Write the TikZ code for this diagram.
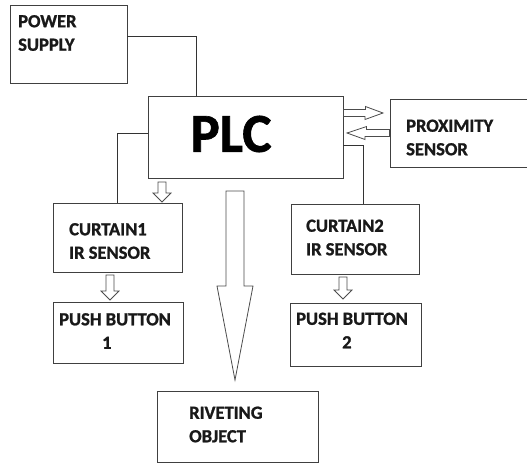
\documentclass[tikz,border=0pt]{standalone}
\usepackage{fontspec}
\setmainfont{Carlito}[BoldFeatures={FakeBold=1.2}]
\begin{document}
\begin{tikzpicture}[x=1pt,y=-1pt,
  box/.style={draw=black!75,line width=0.9pt,rectangle,inner sep=0pt},
  lbl/.style={font=\bfseries\fontsize{18.5}{23.5}\selectfont,align=left,anchor=west,inner sep=0pt,text=black!90},
  wire/.style={draw=black!80,line width=0.9pt},
  hollow/.style={draw=black!70,line width=0.8pt,fill=white,line join=miter}]
\useasboundingbox (0,0) rectangle (527,463);
% boxes (corner to corner)
\node[box,minimum width=117pt,minimum height=78pt] (ps) at (68.5,44) {};
\node[box,minimum width=195pt,minimum height=82pt] (plc) at (245.5,137) {};
\node[box,minimum width=139pt,minimum height=68pt] (prox) at (459.5,133) {};
\node[box,minimum width=129pt,minimum height=69pt] (c1) at (117.5,237.5) {};
\node[box,minimum width=130pt,minimum height=61pt] (pb1) at (118,332.5) {};
\node[box,minimum width=128pt,minimum height=70pt] (c2) at (355,239) {};
\node[box,minimum width=131pt,minimum height=63pt] (pb2) at (355.5,334.5) {};
\node[box,minimum width=161pt,minimum height=71pt] (ro) at (237.5,426.5) {};
% texts
\node[font=\bfseries\fontsize{55}{60}\selectfont,inner sep=0pt] (plct) at (231,134) {PLC};
\node[lbl] (pst) at (18,33) {POWER\\SUPPLY};
\node[lbl] (proxt) at (406,137.5) {PROXIMITY\\SENSOR};
\node[lbl] (c1t) at (69,241) {CURTAIN1\\IR SENSOR};
\node[lbl] (c2t) at (306,237.5) {CURTAIN2\\IR SENSOR};
\node[lbl] (pb1t) at (59,331) {PUSH BUTTON\\\hspace*{43pt}1};
\node[lbl] (pb2t) at (296,330.5) {PUSH BUTTON\\\hspace*{46pt}2};
\node[lbl] (rot) at (189,424.5) {RIVETING\\OBJECT};
% wires
\draw[wire] (ps.east |- 0,36) -| (196,0 |- plc.north);
\draw[wire] (plc.west |- 0,133) -| (c1.north -| 117,0);
\draw[wire] (plc.east |- 0,145) -| (c2.north -| 363,0);
% small hollow down arrows
\newcommand{\hdown}[3]{% x, ytop, ybot
  \draw[hollow] (#1-4,#2) -- (#1+4,#2) -- (#1+4,#3-9) -- (#1+9,#3-9) -- (#1,#3) -- (#1-9,#3-9) -- (#1-4,#3-9) -- cycle;}
\hdown{162}{182}{202}
\hdown{110}{275}{300}
\hdown{343}{277}{299}
% arrows to/from proximity sensor
\coordinate (pa1) at (plc.east |- 0,113);
\coordinate (pa2) at (prox.west |- 0,133);
\draw[hollow] (pa1) ++(0,-3.5) -- ++(22,0) -- ++(0,-3) -- (383,113) -- (365,119.5) -- ++(0,-3) -- (pa1 |- 0,116.5) -- cycle;
\draw[hollow] (pa2) ++(0,-3.5) -- ++(-23,0) -- ++(0,-3) -- (347,133) -- (365,139.5) -- ++(0,-3) -- (pa2 |- 0,136.5) -- cycle;
% big arrow to riveting object
\draw[hollow] (226,191) -- (244,191) -- (244,286) -- (253,286) -- (235,380) -- (217,286) -- (226,286) -- cycle;
\end{tikzpicture}
\end{document}
